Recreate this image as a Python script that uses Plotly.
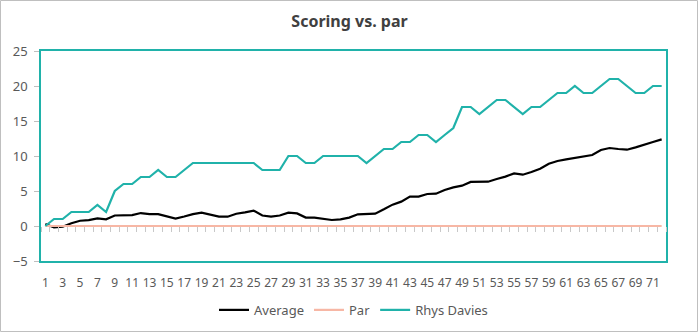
import plotly.graph_objects as go

# Round numbers (1..72) and cumulative scores relative to par
rounds = list(range(1, 73))

average = [0.3, -0.2, -0.1, 0.4, 0.75, 0.85, 1.1, 0.95, 1.5, 1.5,
           1.55, 1.85, 1.7, 1.7, 1.35, 1.05, 1.35, 1.7, 1.9, 1.65,
           1.35, 1.33, 1.75, 1.95, 2.2, 1.5, 1.33, 1.5, 1.9, 1.8,
           1.2, 1.2, 1.0, 0.86, 0.95, 1.2, 1.67, 1.76, 1.76, 2.38,
           3.05, 3.48, 4.19, 4.19, 4.57, 4.62, 5.14, 5.52, 5.76, 6.29,
           6.29, 6.33, 6.71, 7.05, 7.52, 7.33, 7.71, 8.19, 8.9, 9.29,
           9.52, 9.76, 9.9, 10.14, 10.86, 11.14, 11.0, 10.9, 11.24, 11.57,
           12.0, 12.38]

par = [0] * 72

rhys_davies = [0, 1, 1, 2, 2, 2, 3, 2, 5, 6,
               6, 7, 7, 8, 7, 7, 8, 9, 9, 9,
               9, 9, 9, 9, 9, 8, 8, 8, 10, 10,
               9, 9, 10, 10, 10, 10, 10, 9, 10, 11,
               11, 12, 12, 13, 13, 12, 13, 14, 17, 17,
               16, 17, 18, 18, 17, 16, 17, 17, 18, 19,
               19, 20, 19, 19, 20, 21, 21, 20, 19, 19,
               20, 20]

x_tick_labels = [str(r) for r in rounds if r % 2 == 1]
y_ticks = [-5, 0, 5, 10, 15, 20, 25]

TEAL = "#20B2AA"
SALMON = "#F7B7A5"
TEXT = "#595959"
FONT = "Segoe UI, Noto Sans, Open Sans, sans-serif"

W, H = 699, 333
ML, MR, MT, MB = 41, 33, 51, 72

fig = go.Figure()
fig.add_trace(go.Scatter(x=rounds, y=average, name="Average", mode="lines",
                         line=dict(color="#000000", width=2.2)))
# Par sits on the zero-line axis (x2), which carries the category ticks
fig.add_trace(go.Scatter(x=rounds, y=par, name="Par", mode="lines",
                         xaxis="x2", yaxis="y",
                         line=dict(color=SALMON, width=2.2)))
fig.add_trace(go.Scatter(x=rounds, y=rhys_davies, name="Rhys Davies", mode="lines",
                         xaxis="x2", yaxis="y",
                         line=dict(color=TEAL, width=2.2)))

y_min, y_max = y_ticks[0], y_ticks[-1]

fig.update_layout(
    width=W, height=H,
    margin=dict(l=ML, r=MR, t=MT, b=MB, autoexpand=False),
    paper_bgcolor="white", plot_bgcolor="white",
    font=dict(family=FONT, size=12, color=TEXT),
    title=dict(text="<b>Scoring vs. par</b>", x=0.5, xanchor="center",
               y=(H - 21) / H, yanchor="middle", yref="container",
               font=dict(family=FONT, size=16, color="#404040")),
    showlegend=True,
    legend=dict(orientation="h", x=0.5, xanchor="center",
                y=-0.233, yanchor="middle",
                font=dict(family=FONT, size=13, color=TEXT),
                itemwidth=30, tracegroupgap=0),
    xaxis=dict(range=[0.5, 72.5], tickmode="array",
               tickvals=[int(t) for t in x_tick_labels], ticktext=x_tick_labels,
               ticks="outside", ticklen=10, tickcolor="rgba(0,0,0,0)",
               showgrid=False, zeroline=False,
               showline=True, mirror=True, linecolor=TEAL, linewidth=1.5,
               tickfont=dict(family=FONT, size=12, color=TEXT)),
    # category boundary ticks hanging from the zero line
    xaxis2=dict(overlaying="x", anchor="free",
                position=(0 - y_min) / (y_max - y_min),
                range=[0.5, 72.5], tickmode="array",
                tickvals=[r + 0.5 for r in [0] + rounds],
                ticks="outside", ticklen=5, tickcolor="#C8C8C8", tickwidth=1,
                showticklabels=False, showgrid=False, zeroline=False,
                showline=False),
    yaxis=dict(range=[y_min, y_max], tickmode="array", tickvals=y_ticks,
               ticks="outside", ticklen=5, tickcolor="#BFBFBF",
               ticklabelstandoff=4,
               showgrid=False, zeroline=False,
               showline=True, mirror=True, linecolor=TEAL, linewidth=1.5,
               tickfont=dict(family=FONT, size=13, color=TEXT)),
)

# outer chart frame
pw = W - ML - MR
ph = H - MT - MB
fig.add_shape(type="rect", xref="paper", yref="paper",
              x0=(0.5 - ML) / pw, x1=(697.5 - ML) / pw,
              y0=-(331.5 - MT - ph) / ph, y1=(MT - 0.5) / ph + 1,
              line=dict(color="#BFBFBF", width=1), fillcolor="rgba(0,0,0,0)",
              layer="below")

fig.write_html("out.html")
